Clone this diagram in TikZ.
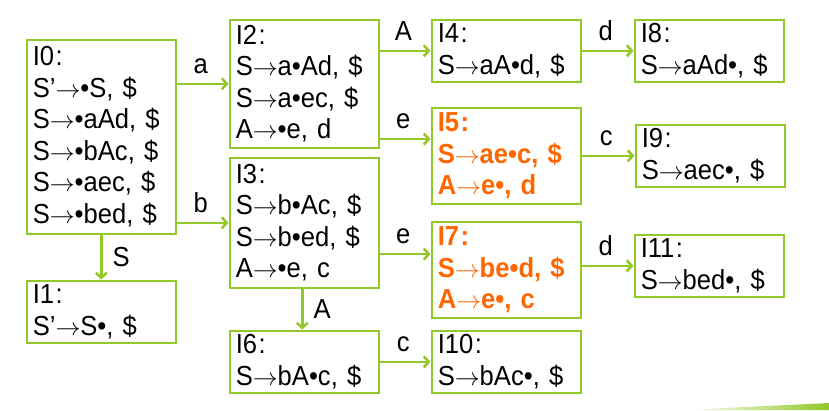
\documentclass[tikz,border=0pt]{standalone}
\usepackage{fontspec}
\setmainfont[FakeStretch=0.93]{Liberation Sans}
\usetikzlibrary{arrows.meta}
\definecolor{lgreen}{RGB}{146,200,40}
\definecolor{hot}{RGB}{255,102,0}
\newcommand{\ra}{\ensuremath{\rightarrow}}
\newcommand{\cl}{\kern1.5pt:}
\tikzset{
  box/.style={draw=lgreen, line width=2.6pt, rectangle, anchor=north west,
    minimum width=149pt, text width=137pt, inner xsep=6pt, inner ysep=1pt,
    align=left, font=\fontsize{27.5}{31.5}\selectfont},
  arr/.style={draw=lgreen, line width=2.6pt, -{Straight Barb[length=5pt,width=11pt]}},
  lbl/.style={font=\fontsize{27.5}{30}\selectfont, inner sep=0pt},
  hl/.style={text=hot, font=\fontsize{27.5}{31.5}\selectfont\bfseries}
}
\begin{document}
\begin{tikzpicture}[x=1pt,y=-1pt]
\useasboundingbox (0,0) rectangle (829,410);
\shade[left color=white, right color=lgreen] (683,410) -- (829,403) -- (829,410) -- cycle;

\node[box, minimum height=194pt] (I0) at (25.5,38.5)
  {I0\cl\\S’\ra•S, \$\\S\ra•aAd, \$\\S\ra•bAc, \$\\S\ra•aec, \$\\S\ra•bed, \$};
\node[box, minimum height=62pt] (I1) at (25.5,279.5) {I1\cl\\S’\ra S•, \$};
\node[box, minimum height=128pt] (I2) at (228.5,18.5)
  {I2\cl\\S\ra a•Ad, \$\\S\ra a•ec, \$\\A\ra•e, d};
\node[box, minimum height=130pt] (I3) at (228.5,156.5)
  {I3\cl\\S\ra b•Ac, \$\\S\ra b•ed, \$\\A\ra•e, c};
\node[box, minimum height=62pt] (I4) at (430.5,18.5) {I4\cl\\S\ra aA•d, \$};
\node[box, hl, minimum height=96pt] (I5) at (430.5,106.5)
  {I5\cl\\S\ra ae•c, \$\\A\ra e•, d};
\node[box, minimum height=62pt] (I6) at (228.5,329.5) {I6\cl\\S\ra bA•c, \$};
\node[box, hl, minimum height=96pt] (I7) at (430.5,220.5)
  {I7\cl\\S\ra be•d, \$\\A\ra e•, c};
\node[box, minimum height=62pt] (I8) at (633.5,18.5) {I8\cl\\S\ra aAd•, \$};
\node[box, minimum height=62pt] (I9) at (634.5,123.5) {I9\cl\\S\ra aec•, \$};
\node[box, minimum height=62pt] (I10) at (430.5,329.5) {I10\cl\\S\ra bAc•, \$};
\node[box, minimum height=62pt] (I11) at (633.5,233.5) {I11\cl\\S\ra bed•, \$};

\draw[arr] (I0.east |- I2.west) -- (I2.west)
  node[lbl, midway, anchor=base, yshift=10.5pt, xshift=-2pt] (la) {a};
\draw[arr] (I0.east |- I3.west) -- (I3.west)
  node[lbl, midway, anchor=base, yshift=10.5pt, xshift=-2pt] (lb) {b};
\draw[arr] (I0.south) -- (I1.north)
  node[lbl, midway, anchor=west, xshift=10pt] (lS) {S};
\draw[arr] (I2.east |- I4.west) -- (I4.west)
  node[lbl, midway, anchor=base, yshift=10.5pt, xshift=-2pt] (lA1) {A};
\draw[arr] ([yshift=10pt]I2.south east) coordinate (p25) -- (I5.west |- p25)
  node[lbl, midway, anchor=base, yshift=10.5pt, xshift=-2pt] (le1) {e};
\draw[arr] ([yshift=35pt]I3.south east) coordinate (p37) -- (I7.west |- p37)
  node[lbl, midway, anchor=base, yshift=10.5pt, xshift=-2pt] (le2) {e};
\draw[arr] ([xshift=-2pt]I3.south) coordinate (p36) -- (I6.north -| p36)
  node[lbl, midway, anchor=west, xshift=10pt] (lA2) {A};
\draw[arr] (I4.east |- I8.west) -- (I8.west)
  node[lbl, midway, anchor=base, yshift=10.5pt, xshift=-2pt] (ld1) {d};
\draw[arr] (I5.east |- I9.west) -- (I9.west)
  node[lbl, midway, anchor=base, yshift=10.5pt, xshift=-2pt] (lc1) {c};
\draw[arr] (I7.east |- I11.west) -- (I11.west)
  node[lbl, midway, anchor=base, yshift=10.5pt, xshift=-2pt] (ld2) {d};
\draw[arr] (I6.east |- I10.west) -- (I10.west)
  node[lbl, midway, anchor=base, yshift=10.5pt, xshift=-2pt] (lc2) {c};
\end{tikzpicture}
\end{document}
